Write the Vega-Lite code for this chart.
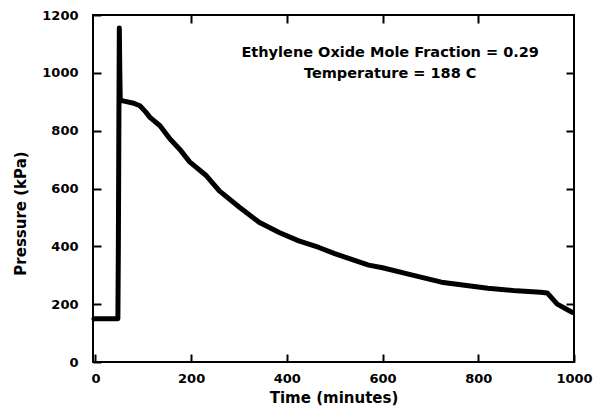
{
  "$schema": "https://vega.github.io/schema/vega-lite/v6.json",
  "width": 481,
  "height": 347,
  "autosize": "none",
  "padding": {"left": 93, "top": 15, "right": 22, "bottom": 48},
  "background": "white",
  "config": {
    "view": {"stroke": "black", "strokeWidth": 2},
    "axis": {
      "domain": false,
      "grid": false,
      "ticks": true,
      "tickColor": "black",
      "tickWidth": 2,
      "tickSize": 8,
      "offset": -8,
      "format": "d",
      "labelFont": "DejaVu Sans",
      "labelFontWeight": "bold",
      "labelFontSize": 13,
      "labelColor": "black",
      "titleFont": "DejaVu Sans",
      "titleFontWeight": "bold",
      "titleFontSize": 15,
      "titleColor": "black"
    }
  },
  "resolve": {"axis": {"x": "independent", "y": "independent"}},
  "layer": [
    {
      "data": {
        "values": [
          {"t": -3, "P": 150}, {"t": 20, "P": 150}, {"t": 40, "P": 150}, {"t": 47, "P": 150},
          {"t": 48, "P": 400}, {"t": 49, "P": 800}, {"t": 50, "P": 1155}, {"t": 51, "P": 1000},
          {"t": 52, "P": 905}, {"t": 60, "P": 902}, {"t": 80, "P": 895}, {"t": 93, "P": 886},
          {"t": 105, "P": 865}, {"t": 114, "P": 846}, {"t": 135, "P": 817}, {"t": 156, "P": 771},
          {"t": 176, "P": 736}, {"t": 197, "P": 692}, {"t": 232, "P": 644}, {"t": 259, "P": 592},
          {"t": 301, "P": 535}, {"t": 342, "P": 483}, {"t": 384, "P": 448}, {"t": 425, "P": 419},
          {"t": 467, "P": 396}, {"t": 500, "P": 375}, {"t": 540, "P": 352}, {"t": 571, "P": 335},
          {"t": 600, "P": 326}, {"t": 654, "P": 304}, {"t": 723, "P": 276}, {"t": 820, "P": 255},
          {"t": 880, "P": 246}, {"t": 930, "P": 241}, {"t": 944, "P": 239}, {"t": 965, "P": 200},
          {"t": 996, "P": 172}
        ]
      },
      "mark": {"type": "line", "color": "black", "strokeWidth": 5, "strokeCap": "round", "strokeJoin": "round"},
      "encoding": {
        "x": {
          "field": "t", "type": "quantitative",
          "scale": {"domain": [-5, 1000], "nice": false, "zero": false},
          "axis": {"orient": "bottom", "values": [0, 200, 400, 600, 800, 1000], "labelPadding": 10, "title": "Time  (minutes)", "titlePadding": 5, "labelFlush": false}
        },
        "y": {
          "field": "P", "type": "quantitative",
          "scale": {"domain": [0, 1200], "nice": false},
          "axis": {"orient": "left", "values": [0, 200, 400, 600, 800, 1000, 1200], "labelPadding": 15, "title": "Pressure  (kPa)", "titleX": -81, "titleY": 198, "titleAngle": -90, "titleBaseline": "middle", "titleAlign": "center", "labelFlush": false}
        }
      }
    },
    {
      "data": {
        "values": [
          {"t": 616, "P": 1070, "label": "Ethylene Oxide Mole Fraction = 0.29"},
          {"t": 616, "P": 996, "label": "Temperature = 188 C"}
        ]
      },
      "mark": {"type": "text", "font": "DejaVu Sans", "fontWeight": "bold", "fontSize": 14.5, "color": "black", "align": "center", "baseline": "middle"},
      "encoding": {
        "x": {
          "field": "t", "type": "quantitative",
          "axis": {"orient": "top", "values": [200, 400, 600, 800], "labels": false, "title": null}
        },
        "y": {
          "field": "P", "type": "quantitative",
          "axis": {"orient": "right", "values": [200, 400, 600, 800, 1000], "labels": false, "title": null}
        },
        "text": {"field": "label"}
      }
    }
  ]
}
